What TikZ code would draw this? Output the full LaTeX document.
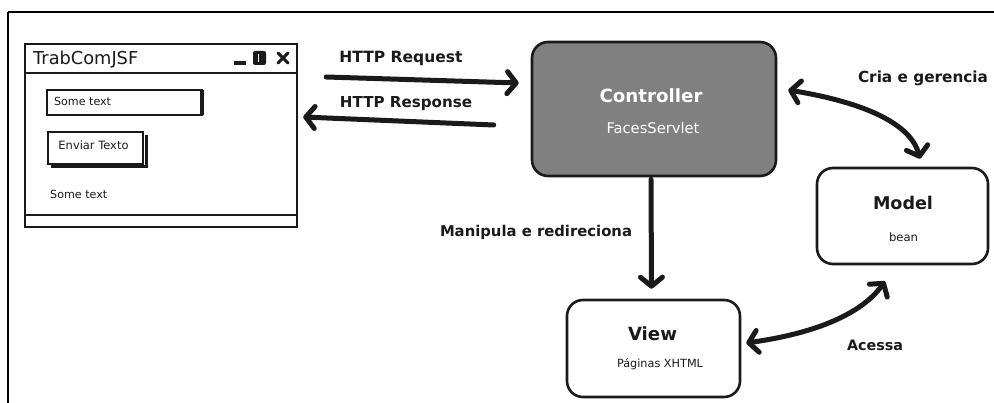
\documentclass[tikz,border=0pt]{standalone}
\usepackage{fontspec}
\setmainfont{DejaVu Sans}
\usepackage{graphicx}
\usetikzlibrary{arrows.meta,calc}
\definecolor{ink}{RGB}{26,26,26}
\definecolor{ctrlgray}{RGB}{128,128,128}
% set a piece of text to a given width
\newcommand{\fitto}[2]{\resizebox{#1}{!}{#2}}

\begin{document}
\begin{tikzpicture}[x=1pt,y=-1pt,
  inkline/.style={draw=ink, line width=2.4pt},
  mvcbox/.style={draw=ink, line width=2.6pt, rounded corners=16pt, inner sep=0pt},
  txt/.style={inner sep=0pt, text=ink},
  bigarrow/.style={draw=ink, line width=5pt, line cap=round, -{Straight Barb[length=9pt,width=22pt,line width=5pt,round]}},
  dblarrow/.style={draw=ink, line width=5pt, line cap=round, {Straight Barb[length=9pt,width=22pt,line width=5pt,round]}-{Straight Barb[length=9pt,width=22pt,line width=5pt,round]}},
]
\useasboundingbox (0,0) rectangle (994,403);
\fill[white] (0,0) rectangle (994,403);

% outer frame: top and left edges
\draw[black, line width=2.6pt] (8,12) -- (994,12);
\draw[black, line width=2.6pt] (8,12) -- (8,403);

% ---------- application window ----------
\node[draw=ink, line width=2.4pt, minimum width=272pt, minimum height=183pt, inner sep=0pt] (win) at (161,135.5) {};
\draw[inkline] (25,73) -- (297,73);
\draw[inkline] (25,215) -- (297,215);
\node[txt, anchor=west] (wtitle) at (33,60) {\fitto{105pt}{TrabComJSF}};
% window buttons
\draw[ink, line width=4pt] (234,63) -- (246,63);
\fill[ink, rounded corners=2pt] (253,51) rectangle (266,65);
\draw[white, line width=1pt] (258,54) -- (258,62);
\draw[ink, line width=3pt, line cap=round] (278,53) -- (288,63) (288,53) -- (278,63);

% text field
\node[draw=ink, line width=2.2pt, minimum width=155pt, minimum height=25pt, inner sep=0pt] (field) at (124.5,102.5) {};
\draw[ink, line width=3.2pt] (202,90) -- (202,115);
\node[txt, anchor=west] (fieldtext) at ($(field.west)+(8,-1)$) {\fitto{57pt}{Some text}};

% button with shadow
\node[draw=ink, line width=2.2pt, minimum width=95pt, minimum height=32pt, inner sep=0pt] (button) at (95.5,148) {};
\draw[ink, line width=3pt] (146,135) -- (146,167) -- (51,167);
\node[txt] (buttontext) at ($(button.center)+(-2,-3)$) {\fitto{70pt}{Enviar Texto}};

% plain label
\node[txt, anchor=west] (label) at (50,194) {\fitto{57pt}{Some text}};

% ---------- MVC boxes ----------
\node[mvcbox, fill=ctrlgray, minimum width=244pt, minimum height=134pt] (ctrl) at (654,109) {};
\node[txt, text=white] (ctrltitle) at (651,96) {\fitto{103pt}{\bfseries Controller}};
\node[txt, text=white] (ctrlsub) at (653,128) {\fitto{93pt}{FacesServlet}};

\node[mvcbox, minimum width=171pt, minimum height=96pt] (model) at (902.5,216) {};
\node[txt] (modeltitle) at (903,203) {\fitto{60pt}{\bfseries Model}};
\node[txt] (modelsub) at (903.5,237) {\fitto{29pt}{bean}};

\node[mvcbox, minimum width=173pt, minimum height=97pt] (view) at (653.5,348.5) {};
\node[txt] (viewtitle) at (652.5,334) {\fitto{49pt}{\bfseries View}};
\node[txt] (viewsub) at (660,364) {\fitto{86pt}{Páginas XHTML}};

% ---------- connectors ----------
\coordinate (reqA) at ($(win.east)+(28,-58.5)$);
\coordinate (reqB) at ($(ctrl.west)+(-12,-26)$);
\draw[bigarrow] (reqA) -- (reqB);
\node[txt] (reqlabel) at (401,58) {\fitto{123pt}{\bfseries HTTP Request}};

\coordinate (resA) at ($(ctrl.west)+(-37,16)$);
\coordinate (resB) at ($(win.east)+(5,-18.5)$);
\draw[bigarrow] (resA) -- (resB);
\node[txt] (reslabel) at (406,104) {\fitto{132pt}{\bfseries HTTP Response}};

\coordinate (criaA) at ($(ctrl.east)+(11,-19)$);
\coordinate (criaB) at ($(model.north)+(17.5,-8)$);
\draw[dblarrow] (criaA) .. controls +(79,13) and +(-9,-34) .. (criaB);
\node[txt] (crialabel) at (923,78) {\fitto{130pt}{\bfseries Cria e gerencia}};

\coordinate (manA) at ($(ctrl.south)+(-3,2)$);
\coordinate (manB) at ($(view.north)+(-2,-10)$);
\draw[bigarrow] (manA) -- (manB);
\node[txt] (manlabel) at (536,232) {\fitto{192pt}{\bfseries Manipula e redireciona}};

\coordinate (acA) at ($(view.east)+(5,-5.5)$);
\coordinate (acB) at ($(model.south)+(-17.5,16)$);
\draw[dblarrow] (acA) .. controls +(71,-10) and +(-23,32) .. (acB);
\node[txt] (aclabel) at (875,345) {\fitto{56pt}{\bfseries Acessa}};
\end{tikzpicture}
\end{document}
